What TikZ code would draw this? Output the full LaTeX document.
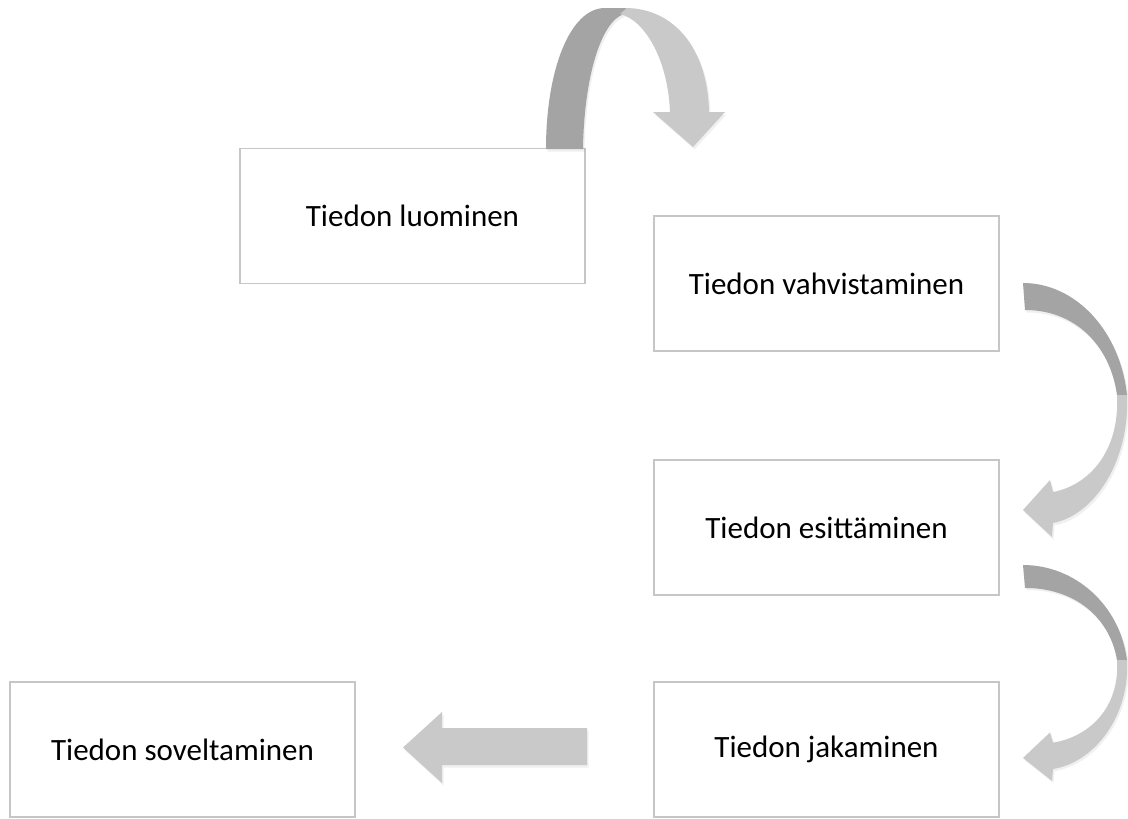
\documentclass[tikz,border=0pt]{standalone}
\usepackage{fontspec}
\setmainfont{Carlito}
\usetikzlibrary{calc}
\definecolor{arrowlight}{HTML}{C9C9C9}
\definecolor{arrowdark}{HTML}{A4A4A4}
\definecolor{boxline}{HTML}{C6C6C6}
\tikzset{
  stagebox/.style={draw=boxline, line width=1.4pt, fill=white,
    minimum width=345pt, minimum height=135pt, inner sep=0pt,
    font=\fontsize{31}{37}\selectfont},
  lightpart/.style={fill=arrowlight, draw=none},
  darkpart/.style={fill=arrowdark, draw=none},
  shadowpart/.style={fill=black, opacity=0.06, draw=none},
  bendarrow/.pic={
    % twisted ribbon arrow, tail at the origin, bending right and down to a left-pointing head
    \fill[shadowpart, shift={(1.5,2.5)}] (0,0) .. controls (52,0) and (97,47) .. (104,112)
      .. controls (107,177) and (72,232) .. (30,240) -- (29,254) -- (0,227) -- (27,197)
      -- (30,209) .. controls (67,202) and (97,167) .. (94,112)
      .. controls (87,62) and (52,27) .. (2,27) -- cycle;
    \fill[darkpart] (0,0) .. controls (52,0) and (97,47) .. (104,112) -- (94,112)
      .. controls (87,62) and (52,27) .. (2,27) -- cycle;
    \fill[lightpart] (104,112) .. controls (107,177) and (72,232) .. (30,240) -- (29,254)
      -- (0,227) -- (27,197) -- (30,209) .. controls (67,202) and (97,167) .. (94,112) -- cycle;
  }
}
\begin{document}
\begin{tikzpicture}[x=1pt,y=-1pt]
\useasboundingbox[fill=white] (0,0) rectangle (1128,819);

% stages
\node[stagebox] (luo) at (412.5,216) {Tiedon luominen};
\node[stagebox] (vah) at (826.5,283.5) {Tiedon vahvistaminen};
\node[stagebox] (esi) at (826.5,527.5) {Tiedon esittäminen};
\node[stagebox] (jak) at (826.5,749.5) {Tiedon jakaminen};
\node[stagebox] (sov) at (182.5,749.5) {Tiedon soveltaminen};

% arch from the first stage over to the second
\fill[shadowpart, shift={(1.5,2.5)}] (546,149) .. controls (546,70) and (570,8) .. (605,8)
  -- (625,8) .. controls (675,8) and (708,50) .. (709,112) -- (725,112) -- (693,147)
  -- (653,112) -- (670,112) .. controls (668,60) and (645,20) .. (624,14)
  .. controls (600,22) and (584,80) .. (583,149) -- cycle;
\fill[darkpart] (546,149) .. controls (546,70) and (570,8) .. (605,8) -- (627,8)
  -- (624,14) .. controls (600,22) and (584,80) .. (583,149) -- cycle;
\fill[lightpart] (625,8) .. controls (675,8) and (708,50) .. (709,112) -- (725,112)
  -- (693,147) -- (653,112) -- (670,112) .. controls (668,60) and (645,20) .. (620,14)
  -- (627,8) -- cycle;

% bends on the right side
\coordinate (bendA) at (1023,283);
\coordinate (bendB) at (1023,565);
\pic at (bendA) {bendarrow};
\pic[yscale=0.85] at (bendB) {bendarrow};

% straight arrow to the last stage
\fill[shadowpart, shift={(1.5,2.5)}] (587,728) -- (442,728) -- (442,712) -- (403,747.5)
  -- (442,783) -- (442,765) -- (587,765) -- cycle;
\fill[lightpart] (587,728) -- (442,728) -- (442,712) -- (403,747.5)
  -- (442,783) -- (442,765) -- (587,765) -- cycle;
\end{tikzpicture}
\end{document}
